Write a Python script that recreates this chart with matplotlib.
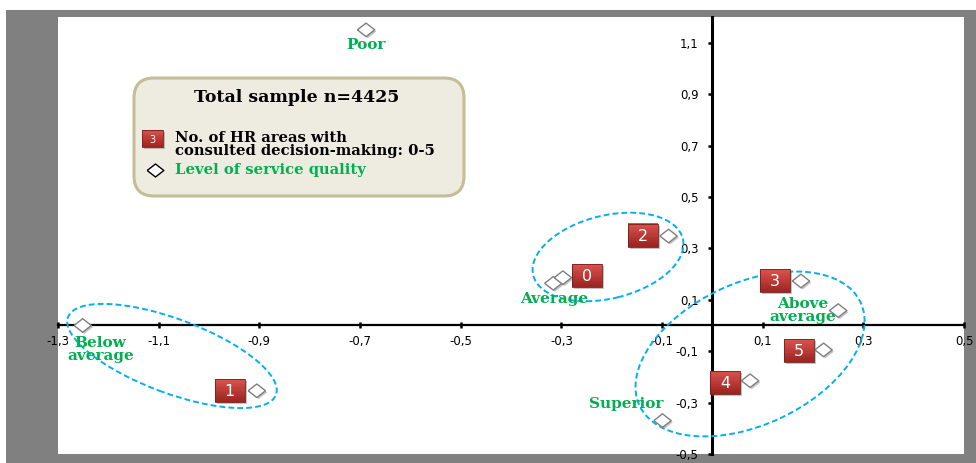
import matplotlib
matplotlib.use("Agg")
import matplotlib.pyplot as plt
import matplotlib.patheffects as pe
import numpy as np
from matplotlib.patches import Rectangle, FancyBboxPatch, Ellipse
from matplotlib.transforms import Affine2D, ScaledTranslation
from matplotlib.colors import to_rgb

# ---- data -------------------------------------------------------------
hr_labels = ["0", "1", "2", "3", "4", "5"]
hr_x = [-0.297, -0.905, -0.087, 0.176, 0.075, 0.221]
hr_y = [0.186, -0.254, 0.348, 0.173, -0.215, -0.095]

quality_labels = ["Poor", "Below\naverage", "Average", "Above\naverage", "Superior"]
quality_x = [-0.688, -1.251, -0.316, 0.250, -0.099]
quality_y = [1.150, 0.000, 0.164, 0.058, -0.370]

x_ticks = [-1.3, -1.1, -0.9, -0.7, -0.5, -0.3, -0.1, 0.1, 0.3, 0.5]
y_ticks = [-0.5, -0.3, -0.1, 0.1, 0.3, 0.5, 0.7, 0.9, 1.1]

title_text = "Total sample n=4425"
legend_hr_text = "No. of HR areas with\nconsulted decision-making: 0-5"
legend_quality_text = "Level of service quality"

# ---- layout / style ---------------------------------------------------
W, H, DPI = 976, 463, 100
GREEN = "#00B050"
BLUE = "#00B0F0"
SERIF = "DejaVu Serif"

# badge offsets from each HR point (pixels, y up)
hr_badge_offsets = [(24, 2), (-27, 0), (-26, 1), (-26, 0), (-25, -1.5), (-25, -1)]
# label offsets from each quality point (pixels, y up)
quality_label_offsets = [(0, -15), (18, -24), (1, -16), (-35, 0), (-36, 17)]
# dashed groupings: centre (data), semi-axes (px), tilt (deg)
groupings = [
    ((-1.0735, -0.1187), 111, 37, -20.5),
    ((-0.2072, 0.2665), 77, 41.5, 13.7),
    ((0.0749, -0.1109), 122, 71, 25),
]

fig = plt.figure(figsize=(W / DPI, H / DPI), dpi=DPI)
fig.patch.set_facecolor("white")
px = Affine2D().scale(1 / DPI, -1 / DPI).translate(0, H / DPI) + fig.dpi_scale_trans

# grey frame around the plot area
fig.patches.append(Rectangle((6, 10), W - 6, H - 10, transform=px,
                             facecolor="#808080", edgecolor="none", zorder=-1))

ax = fig.add_axes([58 / W, 1 - 454 / H, 906 / W, 437 / H])
ax.set_facecolor("white")
ax.set_xlim(-1.3, 0.5)
ax.set_ylim(-0.5, 1.2)

for s in ("top", "right"):
    ax.spines[s].set_visible(False)
ax.spines["left"].set_position(("data", 0))
ax.spines["bottom"].set_position(("data", 0))
ax.spines["left"].set_linewidth(2.2)
ax.spines["bottom"].set_linewidth(1.6)
ax.spines["left"].set_zorder(2)
ax.spines["bottom"].set_zorder(2)

ax.set_xticks(x_ticks)
ax.set_yticks(y_ticks)
fmt = lambda v: f"{v:.1f}".replace(".", ",")
ax.set_xticklabels([fmt(v) for v in x_ticks])
ax.set_yticklabels([fmt(v) for v in y_ticks])
ax.tick_params(axis="x", direction="inout", length=4, width=1.8, pad=5,
               labelsize=8.5, colors="black")
ax.tick_params(axis="y", direction="out", length=3, width=1.8, pad=7,
               labelsize=8.5, colors="black")

# diamond marker (slightly wider than tall)
diamond = [(-1, 0), (0, 0.78), (1, 0), (0, -0.78), (-1, 0)]
shadow = [pe.SimplePatchShadow(offset=(1.2, -1.2), shadow_rgbFace="#8a8a8a", alpha=0.5),
          pe.Normal()]

ax.plot(quality_x, quality_y, linestyle="none", marker=diamond, ms=12.5,
        mfc="white", mec="#7F7F7F", mew=1.0, zorder=5, path_effects=shadow)
ax.plot(hr_x, hr_y, linestyle="none", marker=diamond, ms=12.5,
        mfc="white", mec="#7F7F7F", mew=1.0, zorder=5, path_effects=shadow)

for lab, x, y, (dx, dy) in zip(quality_labels, quality_x, quality_y, quality_label_offsets):
    ax.annotate(lab, xy=(x, y), xytext=(dx, dy), textcoords="offset pixels",
                ha="center", va="center", color=GREEN, fontsize=11,
                fontweight="bold", family=SERIF, linespacing=0.95, zorder=6)

# dashed groupings
for (cx, cy), a, b, ang in groupings:
    tr = fig.dpi_scale_trans + ScaledTranslation(cx, cy, ax.transData)
    e = Ellipse((0, 0), 2 * a / DPI, 2 * b / DPI, angle=ang, transform=tr,
                fill=False, edgecolor=BLUE, linewidth=1.4,
                linestyle=(0, (3, 1.6)), zorder=4, clip_on=False)
    ax.add_patch(e)


def badge(base, cx, cy, w, h, text, fs, zorder=7):
    """Red gradient tag centred at (cx, cy) inches in the base transform."""
    top = np.array(to_rgb("#D9524C"))
    bot = np.array(to_rgb("#9C2421"))
    ax.add_patch(Rectangle((cx - w / 2 + 0.02, cy - h / 2 - 0.02), w, h,
                           transform=base, facecolor="#7a7a7a", alpha=0.45,
                           edgecolor="none", zorder=zorder, clip_on=False))
    n = 14
    for i in range(n):
        f = i / (n - 1)
        c = bot + (top - bot) * f
        ax.add_patch(Rectangle((cx - w / 2, cy - h / 2 + i * h / n), w, h / n * 1.02,
                               transform=base, facecolor=c, edgecolor="none",
                               zorder=zorder, clip_on=False))
    ax.add_patch(Rectangle((cx - w / 2, cy - h / 2), w, h, transform=base,
                           facecolor="none", edgecolor="#7A1C1A", linewidth=0.6,
                           zorder=zorder, clip_on=False))
    ax.text(cx, cy - 0.01, text, transform=base, ha="center", va="center",
            color="white", fontsize=fs, family="DejaVu Sans", zorder=zorder + 0.5,
            clip_on=False)


for lab, x, y, (dx, dy) in zip(hr_labels, hr_x, hr_y, hr_badge_offsets):
    base = fig.dpi_scale_trans + ScaledTranslation(x, y, ax.transData)
    badge(base, dx / DPI, dy / DPI, 0.30, 0.23, lab, 11.5)

# ---- legend panel ------------------------------------------------------
ax.add_patch(FancyBboxPatch((1.34, (H - 196) / DPI), 3.30, 1.18,
                            boxstyle="round,pad=0,rounding_size=0.2",
                            transform=fig.dpi_scale_trans, facecolor="#EEECE1",
                            edgecolor="#C4BD97", linewidth=2.2, zorder=6,
                            clip_on=False))
ax.text(297, 98, title_text, transform=px, ha="center", va="center",
        fontsize=12.5, fontweight="bold", family=SERIF, color="black", zorder=8)
badge(fig.dpi_scale_trans, 152.5 / DPI, (H - 138.7) / DPI, 0.21, 0.17, "3", 7, zorder=8)
ax.text(175, 144.5, legend_hr_text, transform=px, ha="left", va="center",
        fontsize=10.6, fontweight="bold", family=SERIF, color="black",
        linespacing=1.0, zorder=8)
ax.plot([155], [170], transform=px, marker=diamond, ms=12, mfc="white",
        mec="black", mew=1.0, linestyle="none", zorder=8, clip_on=False)
ax.text(175, 170, legend_quality_text, transform=px, ha="left", va="center",
        fontsize=10.6, fontweight="bold", family=SERIF, color=GREEN, zorder=8)

fig.savefig("out.png", dpi=DPI, facecolor=fig.get_facecolor())
